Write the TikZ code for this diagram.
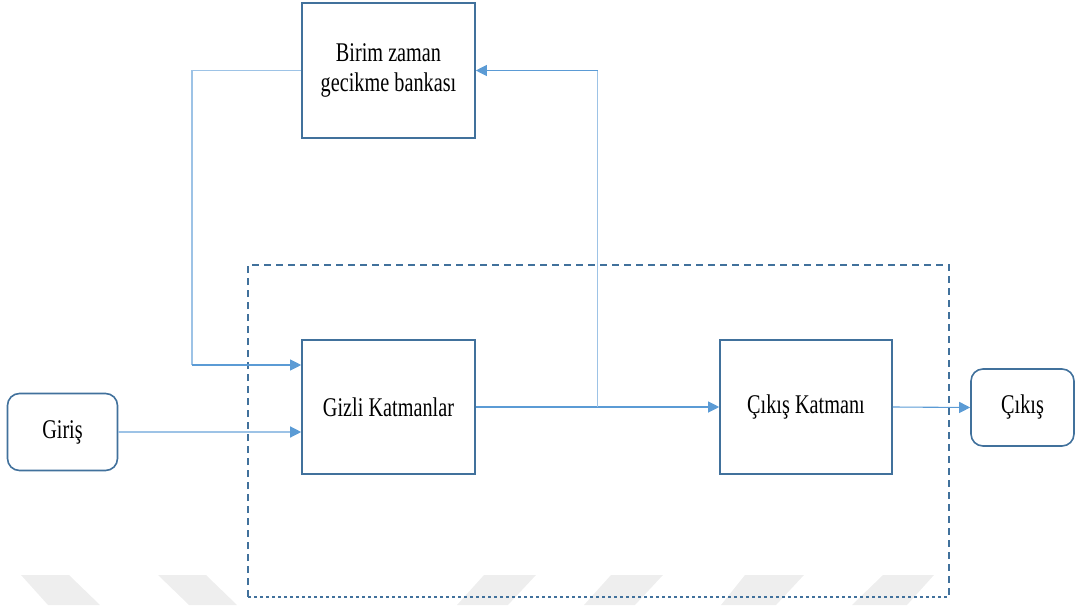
\documentclass[tikz,border=0pt]{standalone}
\usepackage{fontspec}
\newfontfamily\lblfont{Liberation Serif}[FakeStretch=0.75]
\usetikzlibrary{arrows.meta,positioning,calc}

\definecolor{boxblue}{HTML}{41719C}
\definecolor{linkblue}{HTML}{5B9BD5}
\definecolor{paleblue}{HTML}{9DC3E6}
\definecolor{wmgrey}{HTML}{EEEEEE}

\tikzset{
  lbl/.style={font=\lblfont\fontsize{27}{30}\selectfont, text=black, align=center},
  block/.style={lbl, draw=boxblue, line width=1.6pt, fill=white, inner sep=0pt},
  terminal/.style={block, rounded corners=12pt},
  link/.style={draw=linkblue, line width=1.1pt},
  softlink/.style={draw=paleblue, line width=1.3pt},
  tip/.style={-{Triangle[length=11pt,width=11pt,fill=linkblue,color=linkblue]}},
  wm/.style={fill=wmgrey, draw=none},
}

\begin{document}
\begin{tikzpicture}[x=1pt,y=-1pt]
\useasboundingbox (0,0) rectangle (1076,605);

% faint bars along the bottom edge
\fill[wm] (21,575) -- (69,575) -- (100,605) -- (48,605) -- cycle;
\fill[wm] (158,575) -- (206,575) -- (237,605) -- (189,605) -- cycle;
\fill[wm] (484,575) -- (536,575) -- (508,605) -- (457,605) -- cycle;
\fill[wm] (611,575) -- (663,575) -- (635,605) -- (584,605) -- cycle;
\fill[wm] (745,575) -- (804,575) -- (776,605) -- (721,605) -- cycle;
\fill[wm] (883,575) -- (934,575) -- (907,605) -- (852,605) -- cycle;

% dashed frame around the network layers
\coordinate (frNW) at (248,265);
\coordinate (frSE) at (949,597);
\draw[boxblue, line width=1.5pt, dash pattern=on 7pt off 5pt]
  (frSE -| frNW) -- (frNW) -- (frNW -| frSE) -- (frSE);
\draw[boxblue, line width=1.5pt, dash pattern=on 3pt off 3pt]
  (frSE -| frNW) -- (frSE);

% blocks
\node[block, minimum width=173pt, minimum height=135pt] (bank) at (388.5,70.5)
  {Birim zaman\\gecikme bankası};
\node[block, minimum width=173pt, minimum height=134pt] (hidden) at (388.5,407)
  {Gizli Katmanlar};
\node[block, minimum width=172pt, minimum height=134pt] (outlayer) at (806,407)
  {Çıkış Katmanı};
\node[terminal, minimum width=110pt, minimum height=77pt] (input) at (62.5,432)
  {Giriş};
\node[terminal, minimum width=103pt, minimum height=77pt] (output) at (1022.5,407.5)
  {Çıkış};

% helper points for the routed connectors
\coordinate (fbleft) at (192,365);
\coordinate (split) at ($(hidden.east)!0.5!(outlayer.west)$);

% connectors
\draw[softlink] (bank.west) -| (fbleft);
\draw[link, tip] (fbleft) -- (fbleft -| hidden.west);
\draw[softlink, tip] (input.east) -- (input.east -| hidden.west);
\draw[link, tip] (hidden.east) -- (outlayer.west);
\draw[softlink] (split) -- (split |- bank.east);
\draw[link, tip] (split |- bank.east) -- (bank.east);
\draw[link, tip] (outlayer.east) -- (output.west);
\end{tikzpicture}
\end{document}
